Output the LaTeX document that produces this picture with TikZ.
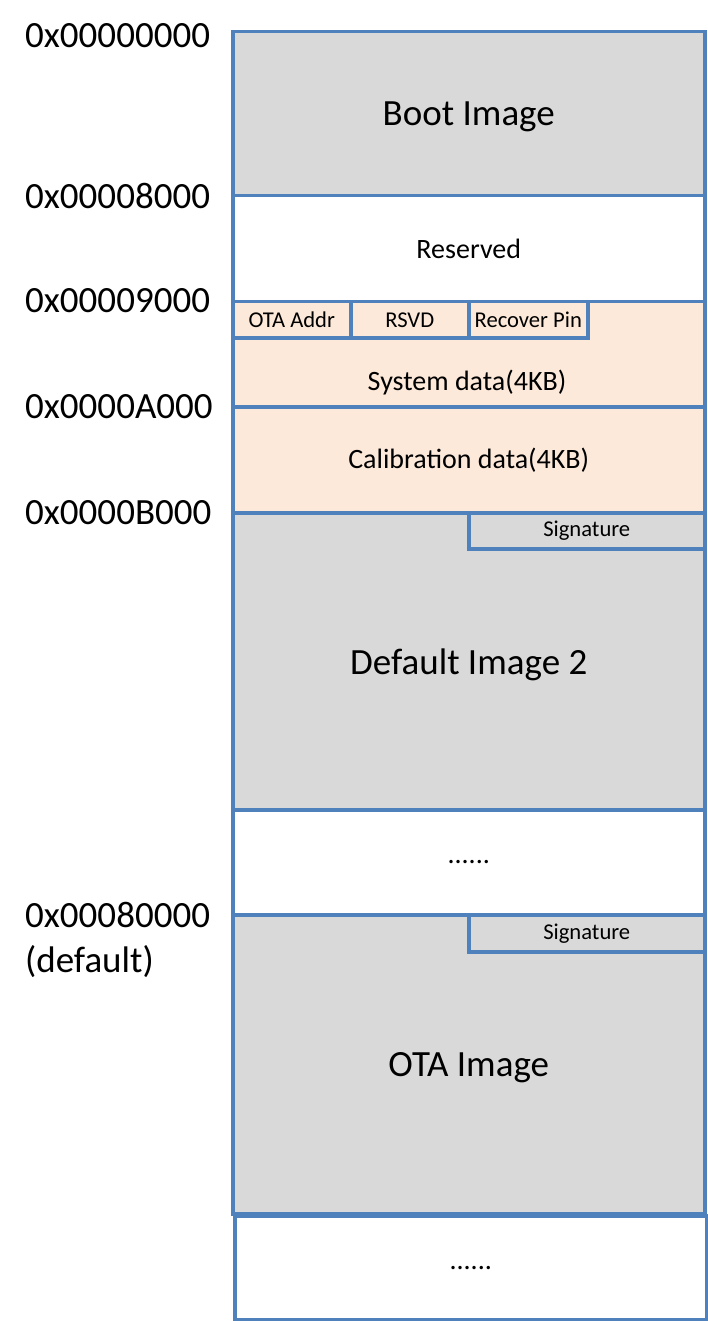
\documentclass[tikz,border=0pt]{standalone}
\usepackage{fontspec}
\setmainfont{Carlito}
\usetikzlibrary{positioning}
\definecolor{mapline}{HTML}{4F81BD}
\definecolor{imgfill}{HTML}{D9D9D9}
\definecolor{datafill}{HTML}{FDE9D9}
\newcommand\mapbig{\fontsize{37}{44}\selectfont}
\newcommand\mapmid{\fontsize{28}{34}\selectfont}
\newcommand\mapsmall{\fontsize{22.6}{27}\selectfont}

\begin{document}
\begin{tikzpicture}[x=1pt,y=-1pt,
  region/.style={draw=mapline,line width=3.5pt,rectangle,inner sep=0pt,anchor=north west,minimum width=472pt},
  field/.style={region,minimum height=36pt,font=\mapsmall}]
\useasboundingbox (0,0) rectangle (707,1321);
\node[region,fill=imgfill,minimum height=164pt,font=\mapbig,text depth=0pt] (boot) at (231,30) {Boot Image};
\node[region,minimum height=106pt,font=\mapmid] (reserved) at (231,194) {Reserved};
\node[region,fill=datafill,minimum height=105pt] (sysdata) at (231,300) {};
\node[font=\mapmid,inner sep=0pt] (syslabel) at (467,383) {System data(4KB)};
\node[region,fill=datafill,minimum height=106pt,font=\mapmid] (calib) at (231,405) {Calibration data(4KB)};
\node[region,fill=imgfill,minimum height=297pt,font=\mapbig,text depth=0pt] (default) at (231,511) {Default Image 2};
\node[region,minimum height=105pt,font=\mapmid] (gap) at (231,808) {......};
\node[region,fill=imgfill,minimum height=299pt,font=\mapbig,text depth=0pt] (ota) at (231,913) {OTA Image};
\node[region,minimum height=104pt,font=\mapmid] (tail) at (233,1214) {......};
% fields inside system data
\node[field,fill=datafill,minimum width=118pt] (otaaddr) at (231,300) {OTA Addr};
\node[field,fill=datafill,minimum width=118pt] (rsvd) at (349,300) {RSVD};
\node[field,fill=datafill,minimum width=119pt] (recpin) at (467,300) {Recover Pin};
% signatures
\node[field,fill=imgfill,minimum width=236pt] (sig1) at (467,511) {Signature};
\node[field,fill=imgfill,minimum width=236pt,minimum height=37pt] (sig2) at (467,913) {Signature};
% addresses
\foreach \y/\t [count=\i] in {36/0x00000000,196/0x00008000,301/0x00009000,407/0x0000A000,513/0x0000B000,915/0x00080000,962/(default)}
  \node[font=\mapbig,anchor=west,inner sep=0pt] (addr\i) at (25,\y) {\t};
\end{tikzpicture}
\end{document}
